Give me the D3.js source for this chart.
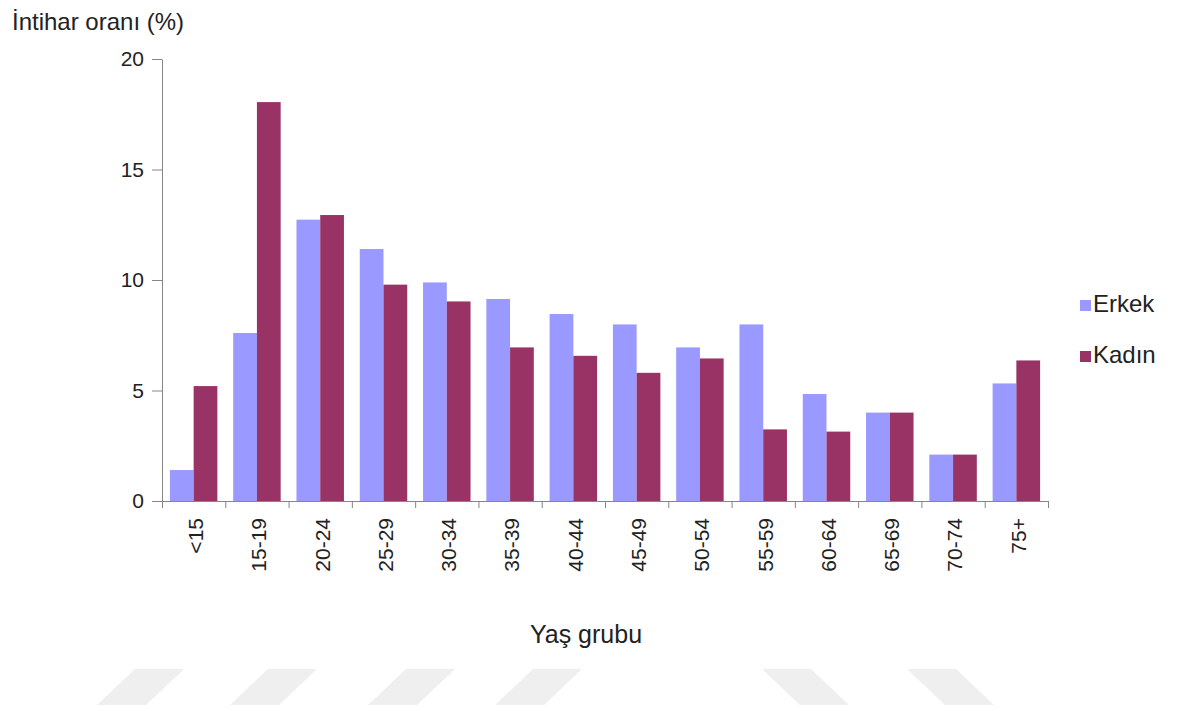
<!DOCTYPE html>
<html>
<head>
  <style>
    body {
      margin: 0;
      background: #fff;
    }
    text {
      font-family: "Liberation Sans", Arial, sans-serif;
      fill: #222;
    }
    .axis path, .axis line {
      stroke: #868686;
    }
  </style>
</head>
<body>
  <script src="https://d3js.org/d3.v7.min.js"></script>
  <script>
    var width = 1178, height = 711;

    var ageGroups = ["<15", "15-19", "20-24", "25-29", "30-34", "35-39", "40-44",
                     "45-49", "50-54", "55-59", "60-64", "65-69", "70-74", "75+"];
    var erkek = [1.4, 7.6, 12.73, 11.4, 9.89, 9.14, 8.46, 7.99, 6.95, 7.99, 4.84, 4.0, 2.1, 5.32];
    var kadin = [5.2, 18.05, 12.94, 9.79, 9.03, 6.95, 6.57, 5.8, 6.45, 3.24, 3.14, 4.0, 2.1, 6.36];
    var seriesNames = ["Erkek", "Kadın"];
    var seriesColors = ["#9999ff", "#993366"];
    var yTicks = [0, 5, 10, 15, 20];

    // faint watermark stripes at the bottom of the picture
    var stripesLeanRight = [97, 230, 368, 495];
    var stripesLeanLeft = [762, 907];

    var svg = d3.select("body").append("svg")
        .attr("width", width)
        .attr("height", height);

    var plotLeft = 162, plotRight = 1048, plotTop = 59, plotBottom = 501;

    var x = d3.scaleBand()
        .domain(ageGroups)
        .range([plotLeft, plotRight])
        .paddingInner(0.25)
        .paddingOuter(0.125);

    var xs = d3.scaleBand()
        .domain(seriesNames)
        .range([0, x.bandwidth()]);

    var xEdges = d3.scaleLinear()
        .domain([0, ageGroups.length])
        .range([plotLeft, plotRight]);

    var y = d3.scaleLinear()
        .domain([0, 20])
        .range([plotBottom, plotTop]);

    // watermark
    var sy0 = 669, sy1 = 705, sw = 49, slant = 38;
    svg.selectAll("polygon.lr")
        .data(stripesLeanRight)
      .enter().append("polygon")
        .attr("points", d => [[d, sy1], [d + sw, sy1], [d + sw + slant, sy0], [d + slant, sy0]].join(" "))
        .attr("fill", "#efefef");
    svg.selectAll("polygon.ll")
        .data(stripesLeanLeft)
      .enter().append("polygon")
        .attr("points", d => [[d, sy0], [d + sw, sy0], [d + sw + slant, sy1], [d + slant, sy1]].join(" "))
        .attr("fill", "#efefef");

    // bars
    var rows = ageGroups.map((g, i) => ({group: g, values: [erkek[i], kadin[i]]}));

    var groups = svg.selectAll("g.group")
        .data(rows)
      .enter().append("g")
        .attr("transform", d => "translate(" + x(d.group) + ",0)");

    groups.selectAll("rect")
        .data(d => d.values.map((v, j) => ({name: seriesNames[j], value: v, color: seriesColors[j]})))
      .enter().append("rect")
        .attr("x", d => xs(d.name))
        .attr("width", xs.bandwidth())
        .attr("y", d => y(d.value))
        .attr("height", d => y(0) - y(d.value))
        .attr("fill", d => d.color);

    // y axis
    var yAxis = svg.append("g")
        .attr("class", "axis")
        .attr("transform", "translate(" + plotLeft + ",0)")
        .call(d3.axisLeft(y).tickValues(yTicks).tickSize(10).tickSizeOuter(0).tickPadding(8));
    yAxis.selectAll("text")
        .style("font-size", "21px")
        .style("font-family", "'Liberation Sans', Arial, sans-serif")
        .attr("fill", "#222");

    // x axis: ticks between groups
    svg.append("g")
        .attr("class", "axis")
        .attr("transform", "translate(0," + plotBottom + ")")
        .call(d3.axisBottom(xEdges).ticks(ageGroups.length).tickSize(7).tickSizeOuter(0).tickFormat(""));

    // x labels, rotated
    svg.selectAll("text.xlabel")
        .data(ageGroups)
      .enter().append("text")
        .attr("class", "xlabel")
        .attr("transform", d => "translate(" + (x(d) + x.bandwidth() / 2 + 2) + "," + (plotBottom + 17) + ") rotate(-90)")
        .attr("text-anchor", "end")
        .attr("dy", "0.35em")
        .style("font-size", "21px")
        .text(d => d);

    // titles
    svg.append("text")
        .attr("x", 12)
        .attr("y", 30)
        .style("font-size", "24px")
        .text("İntihar oranı (%)");

    svg.append("text")
        .attr("x", 586)
        .attr("y", 643)
        .attr("text-anchor", "middle")
        .style("font-size", "25px")
        .text("Yaş grubu");

    // legend
    var legend = svg.selectAll("g.legend")
        .data(seriesNames)
      .enter().append("g")
        .attr("transform", (d, i) => "translate(1080," + (312 + i * 51) + ")");

    legend.append("rect")
        .attr("x", 0)
        .attr("y", -12)
        .attr("width", 11)
        .attr("height", 11)
        .attr("fill", (d, i) => seriesColors[i]);

    legend.append("text")
        .attr("x", 13)
        .attr("y", 0)
        .style("font-size", "24px")
        .text(d => d);
  </script>
</body>
</html>
